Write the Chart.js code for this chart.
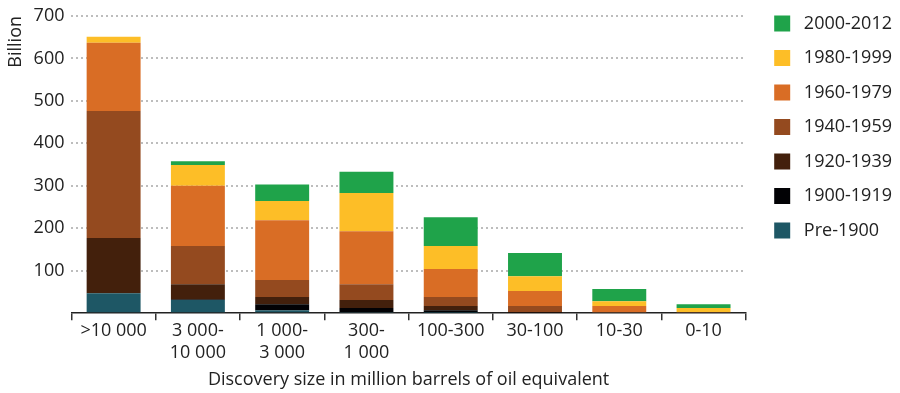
<!DOCTYPE html>
<html>
<head>
<meta charset="utf-8">
<script src="https://cdn.jsdelivr.net/npm/chart.js@4"></script>
<style>
  html, body { margin: 0; padding: 0; background: #fff; }
  #wrap { width: 900px; height: 393px; }
</style>
</head>
<body>
<div id="wrap"><canvas id="myChart" width="900" height="393"></canvas></div>
<script>
// Discovery size classes (million boe)
const categories = [['>10 000'], ['3 000-', '10 000'], ['1 000-', '3 000'], ['300-', '1 000'], ['100-300'], ['30-100'], ['10-30'], ['0-10']];

// Volumes discovered, billion, by period of discovery
const pre1900   = [47, 31, 7, 3, 1, 0, 0, 0];
const p1900_1919 = [0, 2, 14, 9, 6, 1, 0, 0];
const p1920_1939 = [130, 35, 17, 19, 10, 2, 0, 0];
const p1940_1959 = [299, 90, 40, 37, 21, 14, 2, 0];
const p1960_1979 = [161, 142, 141, 125, 66, 35, 15, 3];
const p1980_1999 = [14, 49, 45, 90, 54, 35, 11, 9];
const p2000_2012 = [0, 9, 39, 50, 68, 55, 29, 9];

const yTicks = [100, 200, 300, 400, 500, 600, 700];

document.addEventListener('DOMContentLoaded', function () {
    const ctx = document.getElementById('myChart').getContext('2d');
    const font = "'Open Sans', Lato, sans-serif";

    // nudge the legend block to where the original puts it
    const legendNudge = {
        id: 'legendNudge',
        afterLayout(chart) {
            const lg = chart.legend;
            const dx = 12, dy = -2;
            lg.left += dx; lg.right += dx;
            lg.top += dy; lg.bottom += dy;
        }
    };

    const data = {
        labels: categories,
        datasets: [
            { label: 'Pre-1900', data: pre1900, backgroundColor: '#1e5765' },
            { label: '1900-1919', data: p1900_1919, backgroundColor: '#020205' },
            { label: '1920-1939', data: p1920_1939, backgroundColor: '#43200c' },
            { label: '1940-1959', data: p1940_1959, backgroundColor: '#944a1f' },
            { label: '1960-1979', data: p1960_1979, backgroundColor: '#d96d25' },
            { label: '1980-1999', data: p1980_1999, backgroundColor: '#fdbe27' },
            { label: '2000-2012', data: p2000_2012, backgroundColor: '#1fa34a' }
        ]
    };

    const config = {
        type: 'bar',
        data: data,
        plugins: [legendNudge],
        options: {
            responsive: false,
            animation: false,
            layout: { padding: { top: 0, right: 10, left: 0, bottom: 0 } },
            datasets: {
                bar: { categoryPercentage: 1, barPercentage: 0.64, borderWidth: 0 }
            },
            scales: {
                x: {
                    stacked: true,
                    grid: { drawOnChartArea: false, drawTicks: true, tickLength: 7, color: '#333', lineWidth: 1.5 },
                    border: { display: true, color: '#222', width: 1.5 },
                    ticks: { color: '#222', font: { family: font, size: 18, lineHeight: 1.2 }, padding: 0, maxRotation: 0 },
                    title: {
                        display: true,
                        text: 'Discovery size in million barrels of oil equivalent',
                        color: '#222',
                        font: { family: font, size: 18, lineHeight: 1.2 },
                        padding: { top: 6, bottom: 2 }
                    }
                },
                y: {
                    stacked: true,
                    min: 0,
                    max: 700,
                    afterBuildTicks: function (axis) {
                        axis.ticks = [0].concat(yTicks).map(v => ({ value: v }));
                    },
                    grid: {
                        drawTicks: false,
                        lineWidth: 2,
                        color: c => (c.tick && c.tick.value === 0) ? 'rgba(0,0,0,0)' : '#bdbdbd'
                    },
                    border: { display: false, dash: [2, 3] },
                    ticks: {
                        color: '#222',
                        padding: 7,
                        font: { family: font, size: 18, lineHeight: 1.0 },
                        callback: v => (v === 0 ? '' : v)
                    },
                    title: {
                        display: true,
                        text: 'Billion',
                        align: 'end',
                        color: '#222',
                        font: { family: font, size: 18, lineHeight: 1.2 },
                        padding: { top: 5, bottom: 0 }
                    }
                }
            },
            plugins: {
                legend: {
                    position: 'right',
                    align: 'start',
                    reverse: true,
                    labels: {
                        boxWidth: 16,
                        boxHeight: 16,
                        padding: 16.5,
                        color: '#222',
                        font: { family: font, size: 18 },
                        generateLabels: function (chart) {
                            const items = Chart.defaults.plugins.legend.labels.generateLabels(chart);
                            items.forEach(it => { it.text = ' ' + it.text; });
                            return items;
                        }
                    }
                },
                tooltip: { enabled: false }
            }
        }
    };

    const myChart = new Chart(ctx, config);
});
</script>
</body>
</html>
